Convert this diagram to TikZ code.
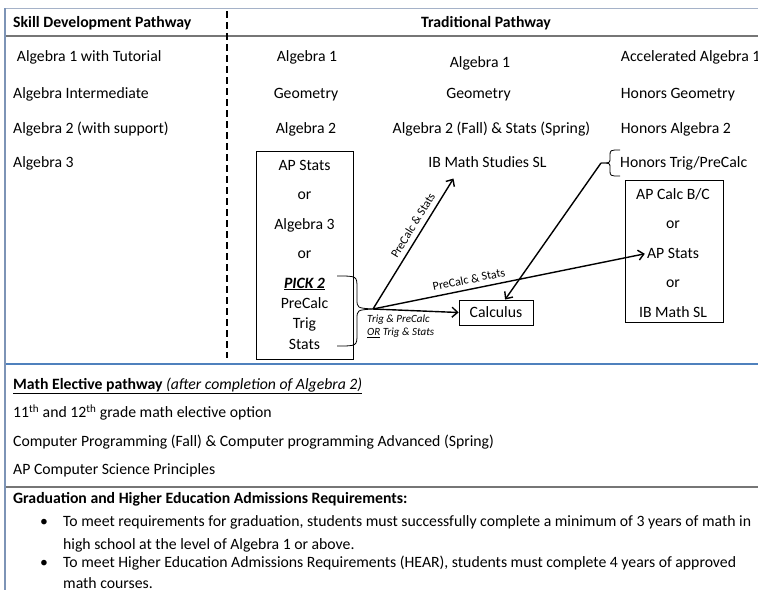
\documentclass[tikz,border=0pt]{standalone}
\usepackage{fontspec}
\setmainfont{Carlito}
\usetikzlibrary{
    arrows.meta,
    positioning,
    calc,
}
\definecolor{rulegrey}{RGB}{118,118,118}
\definecolor{ruleblue}{RGB}{79,129,189}
\definecolor{edgeblue}{RGB}{125,148,182}
\definecolor{topline}{RGB}{165,178,200}

\begin{document}
\begin{tikzpicture}[
    x=1pt, y=-1pt,
    font=\fontsize{15.75}{19}\selectfont,
    node distance=15pt,
    course/.style={inner sep=0pt, text height=11.5pt, text depth=2.5pt},
    left course/.style={course, anchor=west},
    head/.style={course, anchor=west, font=\fontsize{15.75}{19}\selectfont\bfseries},
    optbox/.style={draw, line width=0.9pt},
    bracepath/.style={line width=0.8pt},
    conn/.style={-{Straight Barb[length=5.5pt,width=10pt]}, line width=1.4pt},
    path label/.style={font=\fontsize{12}{14}\selectfont, sloped, above=4pt, inner sep=1pt},
]

% Frame
\useasboundingbox (0,0) rectangle (758,590);
\draw[topline, line width=1pt] (5,8) -- (758,8);
\draw[rulegrey, line width=1.5pt] (5,36) -- (758,36);
\draw[ruleblue, line width=2pt] (5,364) -- (758,364);
\draw[rulegrey, line width=1.5pt] (5,487) -- (758,487);
\draw[edgeblue, line width=1.5pt] (5,8) -- (5,590);
\draw[line width=2pt, dash pattern=on 7pt off 4pt] (227,11) -- (227,358);

% Headers
\node[head] at (13,22.7) (skillhead) {Skill Development Pathway};
\node[head, anchor=center] at (486,22.7) (tradhead) {Traditional Pathway};

% Skill development column
\node[left course] at (16.7,56.7) (alg1tut) {Algebra 1 with Tutorial};
\node[left course] at (13,94.3) (algint) {Algebra Intermediate};
\node[left course] at (13,129.3) (alg2sup) {Algebra 2 (with support)};
\node[left course] at (13,163.3) (alg3) {Algebra 3};

% Traditional, first column
\node[course] at (307,56.7) (tradAa) {Algebra 1};
\node[course] at (306,94.3) (tradAb) {Geometry};
\node[course] at (306,129.3) (tradAc) {Algebra 2};

% Options box
\node[optbox, minimum width=97, minimum height=208] at (304.5,255.5) (pickbox) {};
\node[course] at (304.5,166) (apstatsA) {AP Stats};
\node[course] (orAa) [below=of apstatsA] {or};
\node[course] (alg3A) [below=of orAa] {Algebra 3};
\node[course] (orAb) [below=of alg3A] {or};
\node[course] (picktwo) [below=of orAb] {\underline{\textbf{\textit{PICK 2}}}};
\node[course] (precalcA) [below=6pt of picktwo] {PreCalc};
\node[course] (trigA) [below=6pt of precalcA] {Trig};
\node[course] (statsA) [below=6pt of trigA] {Stats};

% Traditional, second column
\node[course] at (480,63) (tradBa) {Algebra 1};
\node[course] at (478.5,94.3) (tradBb) {Geometry};
\node[course] at (491.5,129.3) (tradBc) {Algebra 2 (Fall) \& Stats (Spring)};
\node[course] at (487.5,163.3) (ibms) {IB Math Studies SL};

% Traditional, honors column
\node[left course] at (620.7,56.7) (honA) {Accelerated Algebra 1};
\node[left course] at (620.7,94.3) (honB) {Honors Geometry};
\node[left course] at (620.7,129.3) (honC) {Honors Algebra 2};
\node[left course] at (620,163.3) (htrig) {Honors Trig/PreCalc};

% Senior options box
\node[optbox, minimum width=98, minimum height=142] at (674,251.7) (calcbox) {};
\node[course] at (673,195) (apcalc) {AP Calc B/C};
\node[course] (orBa) [below=of apcalc] {or};
\node[course] (apstatsB) [below=of orBa] {AP Stats};
\node[course] (orBb) [below=of apstatsB] {or};
\node[course] (ibmsl) [below=of orBb] {IB Math SL};

% Calculus
\node[optbox, course, minimum width=74, minimum height=25] at (496,312.5) (calc) {Calculus};

% Braces
\coordinate (pick) at (373,309);
\draw[bracepath] (337,276) .. controls (357,276) .. (357,288) -- (357,299) .. controls (357,308) .. (pick);
\draw[bracepath] (337,346) .. controls (357,346) .. (357,334) -- (357,319) .. controls (357,310) .. (pick);
\coordinate (hbr) at (601,163);
\draw[bracepath] (620,150) .. controls (610,150) .. (610,156) -- (610,158) .. controls (610,163) .. (hbr);
\draw[bracepath] (620,176) .. controls (610,176) .. (610,170) -- (610,168) .. controls (610,163) .. (hbr);

% Lines
\draw[conn] (pick) -- ([xshift=-34pt,yshift=-8pt]ibms.south) node[path label, pos=.6] {PreCalc \& Stats};
\draw[conn] (pick) -- ([xshift=-2pt]apstatsB.west) node[path label, pos=.36] {PreCalc \& Stats};
\draw[conn] (pick) -- (calc.west);
\draw[conn] (hbr) -- (calc);
\node[anchor=north west, align=left, inner sep=0pt, font=\fontsize{11}{13}\selectfont\itshape] at (367,315) (pickrule) {Trig \& PreCalc\\\underline{OR} Trig \& Stats};

% Math elective pathway
\node[left course] at (13,385) (electhead) {\underline{\textbf{Math Elective pathway} \textit{(after completion of Algebra 2)}}};
\node[left course] at (13,413) (electA) {11\textsuperscript{th} and 12\textsuperscript{th} grade math elective option};
\node[left course] at (13,441.5) (electB) {Computer Programming (Fall) \& Computer programming Advanced (Spring)};
\node[left course] at (13,470) (electC) {AP Computer Science Principles};

% Requirements
\node[head] at (13,499) (gradhead) {Graduation and Higher Education Admissions Requirements:};
\node[left course] at (40,522) (dotA) {\textbullet};
\node[left course] at (63,522) (reqA) {To meet requirements for graduation, students must successfully complete a minimum of 3 years of math in};
\node[left course] at (63,545) (reqAb) {high school at the level of Algebra 1 or above.};
\node[left course] at (40,563) (dotB) {\textbullet};
\node[left course] at (63,563) (reqB) {To meet Higher Education Admissions Requirements (HEAR), students must complete 4 years of approved};
\node[left course] at (63,584) (reqBb) {math courses.};

\end{tikzpicture}
\end{document}
